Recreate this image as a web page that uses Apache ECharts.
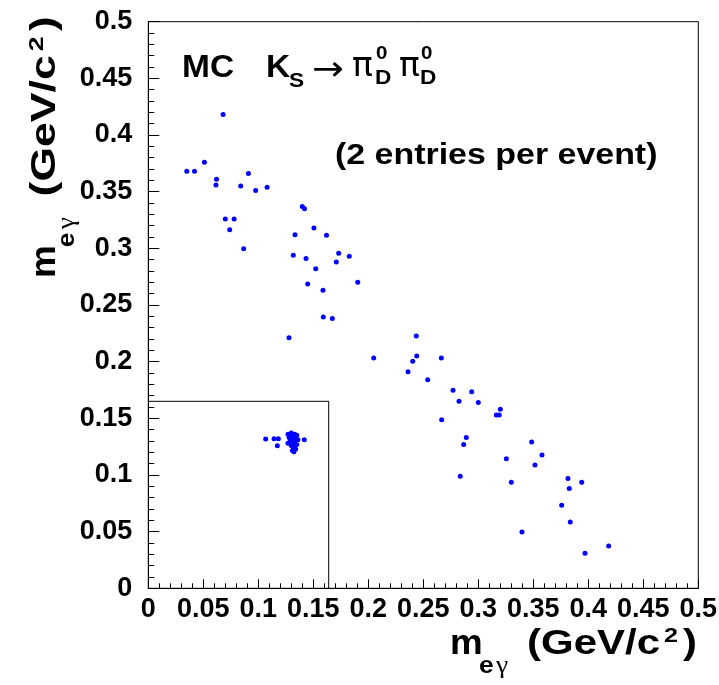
<!DOCTYPE html>
<html><head><meta charset="utf-8">
<script src="https://cdn.jsdelivr.net/npm/echarts@6/dist/echarts.min.js"></script>
<style>html,body{margin:0;padding:0;background:#fff}#c{width:719px;height:685px}</style>
</head><body><div id="c"></div>
<script>
// m_eγ (first pair member) vs m_eγ (second) — MC K_S -> pi0_D pi0_D, 2 entries per event
const xValues = [
  0.068, 0.035, 0.042, 0.051, 0.062, 0.0615, 0.091, 0.084, 0.0976, 0.108,
  0.140, 0.142, 0.070, 0.078, 0.074, 0.1506, 0.1334, 0.162, 0.0867, 0.1318,
  0.1731, 0.1434, 0.1827, 0.1709, 0.1522, 0.1904, 0.1449, 0.1588, 0.1591, 0.1673,
  0.1279, 0.2436, 0.2049, 0.244, 0.2664, 0.2404, 0.2361, 0.254, 0.277, 0.294,
  0.2825, 0.300, 0.320, 0.3164, 0.319, 0.2667, 0.2891, 0.2867, 0.3485, 0.3579,
  0.3255, 0.3515, 0.2836, 0.330, 0.3815, 0.394, 0.3827, 0.3758, 0.3836, 0.3397,
  0.4185, 0.397,
  0.1067, 0.1143, 0.1182, 0.1173, 0.1418, 0.1324,
  0.127, 0.130, 0.133, 0.135, 0.128, 0.131, 0.134, 0.136, 0.129, 0.132,
  0.127, 0.133, 0.135, 0.130, 0.132, 0.134, 0.131
];
const yValues = [
  0.418, 0.368, 0.368, 0.376, 0.361, 0.356, 0.366, 0.355, 0.351, 0.354,
  0.337, 0.335, 0.326, 0.326, 0.3165, 0.318, 0.312, 0.3115, 0.2997, 0.294,
  0.2956, 0.291, 0.293, 0.288, 0.282, 0.270, 0.2686, 0.263, 0.2394, 0.238,
  0.221, 0.2227, 0.2033, 0.205, 0.2033, 0.2003, 0.191, 0.184, 0.1748, 0.1735,
  0.165, 0.164, 0.158, 0.153, 0.153, 0.1488, 0.133, 0.1268, 0.129, 0.1177,
  0.1144, 0.1088, 0.0989, 0.0936, 0.097, 0.0936, 0.088, 0.0733, 0.0586, 0.0497,
  0.0374, 0.031,
  0.1318, 0.132, 0.132, 0.1259, 0.131, 0.1206,
  0.136, 0.137, 0.136, 0.135, 0.133, 0.134, 0.132, 0.131, 0.130, 0.130,
  0.128, 0.128, 0.127, 0.126, 0.124, 0.123, 0.1215
];
const tickLabels = ['0', '0.05', '0.1', '0.15', '0.2', '0.25', '0.3', '0.35', '0.4', '0.45', '0.5'];
const boxX = [0, 0.164, 0.164];
const boxY = [0.165, 0.165, 0];

const FONT = '"Liberation Sans", Arial, Helvetica, sans-serif';
const SYM = '"DejaVu Sans", "Liberation Sans", sans-serif';
const SERIF = '"Liberation Serif", "DejaVu Serif", serif';
const fmt = v => { const i = Math.round(v / 0.05); return tickLabels[i] !== undefined ? '{t|' + tickLabels[i] + '}' : ''; };
const labelRich = { t: { fontSize: 27, fontWeight: 'bold', fontFamily: FONT, color: '#000' } };

// text piece: baseline placed at (x, y)
function piece(t, x, y, size, bold, sx, family) {
  return {
    type: 'text', x: x, y: y - 0.35 * size, scaleX: sx || 1,
    style: {
      text: t, x: 0, y: 0, fill: '#000',
      fontSize: size, fontWeight: bold ? 'bold' : 'normal', fontFamily: family || FONT,
      align: 'left', verticalAlign: 'middle', textAlign: 'left', textVerticalAlign: 'middle'
    }
  };
}
function axisTitle(ox, oy, rot, k) {
  const s = 1.2 * k;
  return {
    type: 'group', x: ox, y: oy, rotation: rot,
    children: [
      piece('m', 0, 0, 35, true, 1.05),
      piece('e', 29 * k, 18, 24, true, 1.1),
      piece('γ', 46 * k, 18, 25, false, 1.1, SERIF),
      piece('(GeV/c', 77 * k, 0, 35, true, s),
      piece('2', 214 * k, -13, 21, true, s),
      piece(')', 233 * k, 0, 35, true, s)
    ]
  };
}

const chart = echarts.init(document.getElementById('c'), null, { renderer: 'canvas' });
chart.setOption({
  animation: false,
  backgroundColor: '#fff',
  grid: { left: 148.3, right: 20.7, top: 21.7, bottom: 96.7, show: true, borderColor: '#000', borderWidth: 1, backgroundColor: 'transparent', containLabel: false, outerBoundsMode: 'none' },
  xAxis: {
    type: 'value', min: 0, max: 0.5, interval: 0.05,
    axisLine: { show: true, onZero: false, lineStyle: { color: '#000', width: 1 } },
    axisTick: { show: true, inside: true, length: 9, lineStyle: { color: '#000', width: 1 } },
    minorTick: { show: true, splitNumber: 5, length: 5, lineStyle: { color: '#000', width: 1 } },
    splitLine: { show: false }, minorSplitLine: { show: false },
    axisLabel: { show: true, margin: 8, color: '#000', fontSize: 27, fontWeight: 'bold', fontFamily: FONT, formatter: fmt, rich: labelRich, hideOverlap: false, showMinLabel: true, showMaxLabel: true }
  },
  yAxis: {
    type: 'value', min: 0, max: 0.5, interval: 0.05,
    axisLine: { show: true, onZero: false, lineStyle: { color: '#000', width: 1 } },
    axisTick: { show: true, inside: true, length: 11, lineStyle: { color: '#000', width: 1 } },
    minorTick: { show: true, splitNumber: 5, length: 6, lineStyle: { color: '#000', width: 1 } },
    splitLine: { show: false }, minorSplitLine: { show: false },
    axisLabel: { show: true, margin: 16, color: '#000', fontSize: 27, fontWeight: 'bold', fontFamily: FONT, formatter: fmt, rich: labelRich, hideOverlap: false, showMinLabel: true, showMaxLabel: true }
  },
  series: [
    {
      type: 'line', data: boxX.map((x, i) => [x, boxY[i]]), symbol: 'none',
      lineStyle: { color: '#000', width: 1 }, z: 1, silent: true
    },
    {
      type: 'scatter', data: xValues.map((x, i) => [x, yValues[i]]),
      symbol: 'circle', symbolSize: 5, itemStyle: { color: '#0000ff', opacity: 1 }, z: 3
    }
  ],
  graphic: [
    piece('MC', 182, 79, 31, true, 1.08),
    piece('K', 266, 79, 31, true, 1.08),
    piece('S', 289, 89, 21, true, 1.08),
    piece('→', 312, 83, 34, false, 1.12, SYM),
    piece('π', 352, 79, 33, false, 1.05, SYM),
    piece('0', 376, 60, 19, true, 1.08),
    piece('D', 375, 86, 21, true, 1.08),
    piece('π', 399, 79, 33, false, 1.05, SYM),
    piece('0', 421, 60, 19, true, 1.08),
    piece('D', 420, 86, 21, true, 1.08),
    piece('(2 entries per event)', 335, 165.7, 29, true, 1.17),
    axisTitle(450, 656.7, 0, 1),
    axisTitle(58, 278, Math.PI / 2, 1.06)
  ]
});
</script></body></html>
